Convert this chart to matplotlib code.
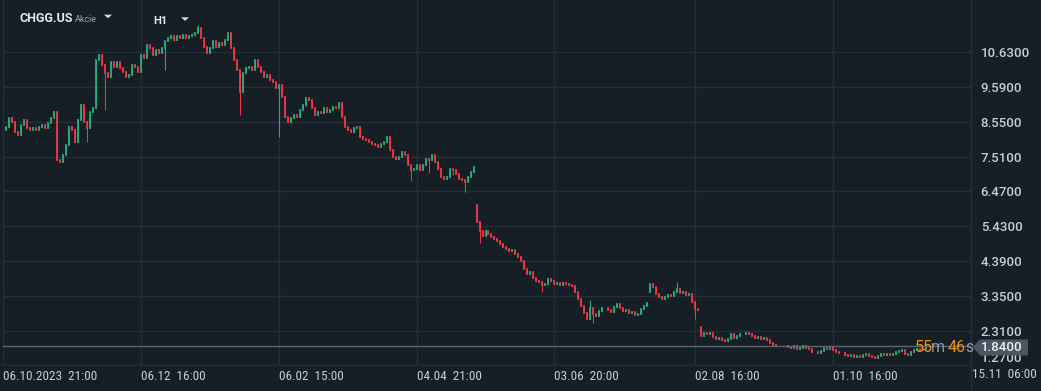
import matplotlib
matplotlib.use("Agg")
import matplotlib.pyplot as plt
from matplotlib.patches import Polygon
from matplotlib import font_manager

# hourly closes of CHGG.US (one value every ~3 px)
closes = [
    8.30, 8.40, 8.65, 8.55, 8.25, 8.15, 8.45, 8.60, 8.35, 8.30,
    8.35, 8.30, 8.40, 8.45, 8.35, 8.50, 8.65, 8.85, 7.40, 7.35,
    7.55, 7.85, 8.40, 8.30, 7.95, 8.60, 9.05, 8.55, 8.35, 8.85,
    8.95, 10.40, 10.55, 10.25, 10.00, 9.90, 10.35, 10.20, 10.35, 10.15,
    10.05, 9.90, 9.95, 10.25, 10.20, 10.05, 10.55, 10.45, 10.85, 10.75,
    10.55, 10.70, 10.60, 10.75, 10.95, 11.05, 11.10, 11.00, 11.10, 11.05,
    11.15, 11.05, 11.10, 11.15, 11.20, 11.35, 11.05, 10.80, 10.60, 10.75,
    10.95, 10.80, 10.90, 10.85, 11.00, 11.20, 10.75, 10.40, 10.10, 9.45,
    10.00, 10.15, 10.20, 10.10, 10.40, 10.20, 10.05, 9.90, 9.95, 9.80,
    9.75, 9.55, 9.65, 9.30, 8.70, 8.55, 8.65, 8.75, 8.70, 8.90,
    9.05, 9.25, 9.20, 8.95, 8.75, 8.85, 8.80, 8.95, 8.85, 8.90,
    9.00, 8.95, 9.10, 8.70, 8.40, 8.30, 8.25, 8.35, 8.40, 8.10,
    8.05, 8.00, 7.95, 7.90, 7.85, 7.80, 7.90, 7.95, 8.10, 7.70,
    7.50, 7.45, 7.50, 7.65, 7.55, 7.25, 7.10, 7.15, 7.25, 7.10,
    7.25, 7.45, 7.40, 7.55, 7.35, 7.15, 6.90, 6.85, 6.90, 7.15,
    7.10, 7.00, 6.85, 6.80, 6.75, 6.90, 7.05, 7.20, 5.55, 5.30,
    5.15, 5.30, 5.20, 5.10, 5.05, 5.00, 4.90, 4.80, 4.75, 4.70,
    4.72, 4.60, 4.50, 4.38, 4.15, 4.00, 4.05, 3.88, 3.80, 3.75,
    3.68, 3.70, 3.85, 3.80, 3.70, 3.72, 3.68, 3.72, 3.70, 3.68,
    3.65, 3.45, 3.25, 3.05, 2.85, 2.65, 3.00, 2.80, 2.75, 2.90,
    3.00, 2.98, 2.92, 2.88, 3.02, 3.10, 2.98, 2.90, 2.92, 2.85,
    2.88, 2.78, 2.82, 2.95, 3.05, 3.12, 3.70, 3.60, 3.40, 3.30,
    3.25, 3.30, 3.38, 3.35, 3.45, 3.55, 3.42, 3.45, 3.38, 3.40,
    3.15, 2.95, 2.92, 2.15, 2.25, 2.22, 2.25, 2.12, 2.05, 2.08,
    2.02, 2.00, 2.05, 2.22, 2.10, 2.15, 2.22, 2.20, 2.24, 2.20,
    2.16, 2.10, 2.12, 2.06, 2.08, 2.02, 1.95, 1.88, 1.84, 1.86,
    1.84, 1.86, 1.82, 1.80, 1.84, 1.77, 1.80, 1.85, 1.80, 1.76,
    1.68, 1.66, 1.64, 1.70, 1.78, 1.76, 1.78, 1.74, 1.68, 1.64,
    1.65, 1.58, 1.55, 1.57, 1.53, 1.55, 1.52, 1.57, 1.60, 1.56,
    1.52, 1.50, 1.56, 1.60, 1.58, 1.62, 1.58, 1.62, 1.66, 1.70,
    1.73, 1.62, 1.58, 1.66, 1.74, 1.76, 1.72, 1.76, 1.84,
]
first_open = 8.30

# candles that opened with a gap (earnings etc.)
gap_idx = [158, 216, 233]
gap_open = [6.07, 3.45, 2.42]

# long wicks that stick out of the bodies
low_wick_idx = [28, 31, 34, 54, 79, 92, 136, 142, 150, 154, 159, 180, 197, 231]
low_wick_val = [7.95, 8.95, 8.90, 10.10, 8.75, 8.10, 6.77, 7.03, 6.95, 6.44, 4.93, 3.47, 2.55, 2.65]
high_wick_idx = [65, 196, 225]
high_wick_val = [11.45, 3.23, 3.77]

price_ticks = [10.63, 9.59, 8.55, 7.51, 6.47, 5.43, 4.39, 3.35, 2.31, 1.27]
time_idx = [0, 46, 92, 138, 184, 231, 277]
time_labels = ['06.10.2023  21:00', '06.12  16:00', '06.02  15:00', '04.04  21:00',
               '03.06  20:00', '02.08  16:00', '01.10  16:00']
last_time = '15.11  06:00'
last_price = 1.84

BG = '#171f26'
GRID = '#242e37'
UP = '#22b07a'
DOWN = '#f2364a'
TXT = '#c9cdd1'

# narrow font for the time axis, if one is installed
names = {f.name for f in font_manager.fontManager.ttflist}
narrow = None
for cand in ['Liberation Sans Narrow', 'DejaVu Sans Condensed', 'Roboto Condensed', 'Open Sans Condensed']:
    if cand in names:
        narrow = cand
        break
if narrow:
    time_font = dict(family=narrow, fontsize=9.5)
else:
    time_font = dict(family='Roboto', fontsize=8.3)

opens = [first_open] + closes[:-1]
for i, o in zip(gap_idx, gap_open):
    opens[i] = o
lows = [min(o, c) for o, c in zip(opens, closes)]
highs = [max(o, c) for o, c in zip(opens, closes)]
for i, v in zip(low_wick_idx, low_wick_val):
    lows[i] = v
for i, v in zip(high_wick_idx, high_wick_val):
    highs[i] = v
xs = list(range(len(closes)))
cols = [UP if c >= o else DOWN for o, c in zip(opens, closes)]

W, H = 1041, 391
fig = plt.figure(figsize=(W / 100, H / 100), dpi=100, facecolor=BG)
ax = fig.add_axes([3 / W, 25 / H, 968 / W, 366 / H])
ax.set_facecolor(BG)


def px(x, y):
    # figure pixel (from top-left) -> figure fraction
    return x / W, 1 - y / H


ax.vlines(xs, lows, highs, colors=cols, linewidth=0.75)
ax.vlines(xs, opens, closes, colors=cols, linewidth=1.3, capstyle='projecting')

ax.set_xlim(0, 323)
ax.set_ylim(1.252, 12.19)

ax.yaxis.tick_right()
ax.set_yticks(price_ticks)
ax.set_yticklabels(['%.4f' % p for p in price_ticks])
ax.set_xticks(time_idx)
ax.set_xticklabels(time_labels)
ax.tick_params(axis='y', length=0, pad=7, labelsize=9.5, labelcolor=TXT)
ax.tick_params(axis='x', length=0, pad=3, labelcolor=TXT)
for lab in ax.get_yticklabels():
    lab.set_family('Roboto')
    lab.set_fontweight('medium')
ax.get_yticklabels()[-1].set_verticalalignment('bottom')
for lab in ax.get_xticklabels():
    lab.set_family(time_font['family'])
    lab.set_fontsize(time_font['fontsize'])
    lab.set_horizontalalignment('left')
ax.grid(True, color=GRID, linewidth=1)
ax.set_axisbelow(True)
for s in ax.spines.values():
    s.set_visible(False)

# right separator and last time label
fig.add_artist(plt.Line2D([971 / W, 971 / W], [0, 1], color=GRID, lw=1))
fig.text(*px(972, 374), last_time, color=TXT, va='center', **time_font)

# last price line and box
ax.axhline(last_price, color='#5b6772', lw=1)
box = Polygon([px(973, 347), px(980, 339.5), px(1028, 339.5), px(1028, 355.5), px(980, 355.5)],
              closed=True, transform=fig.transFigure, facecolor='#4a5762', edgecolor='none')
fig.add_artist(box)
fig.text(*px(981, 347.5), '%.4f' % last_price, color='#eef0f2', fontsize=9.5, va='center',
         family='Roboto', fontweight='medium')

# countdown to next candle
for x, s, c in [(915, '55', '#f0900f'), (931, 'm', '#8d98a2'), (948, '46', '#f0900f'), (965, 's', '#8d98a2')]:
    fig.text(*px(x, 347), s, color=c, fontsize=11.5, va='center', family='Roboto')

# header
fig.text(*px(20, 18.7), 'CHGG.US', color='#e6e8ea', fontsize=9, fontweight='bold', va='center', family='Roboto')
fig.text(*px(75, 19.5), 'Akcie', color='#9aa3ab', fontsize=6.5, va='center', family='Roboto')
fig.text(*px(153, 20.7), 'H1', color='#e6e8ea', fontsize=8, fontweight='bold', va='center', family='Roboto')
for x0, y0 in [(104, 14.7), (181, 17.3)]:
    fig.add_artist(Polygon([px(x0, y0), px(x0 + 8, y0), px(x0 + 4, y0 + 3.6)], closed=True,
                           transform=fig.transFigure, facecolor='#d6d9dc', edgecolor='none'))

fig.savefig('out.png', dpi=100, facecolor=BG)
